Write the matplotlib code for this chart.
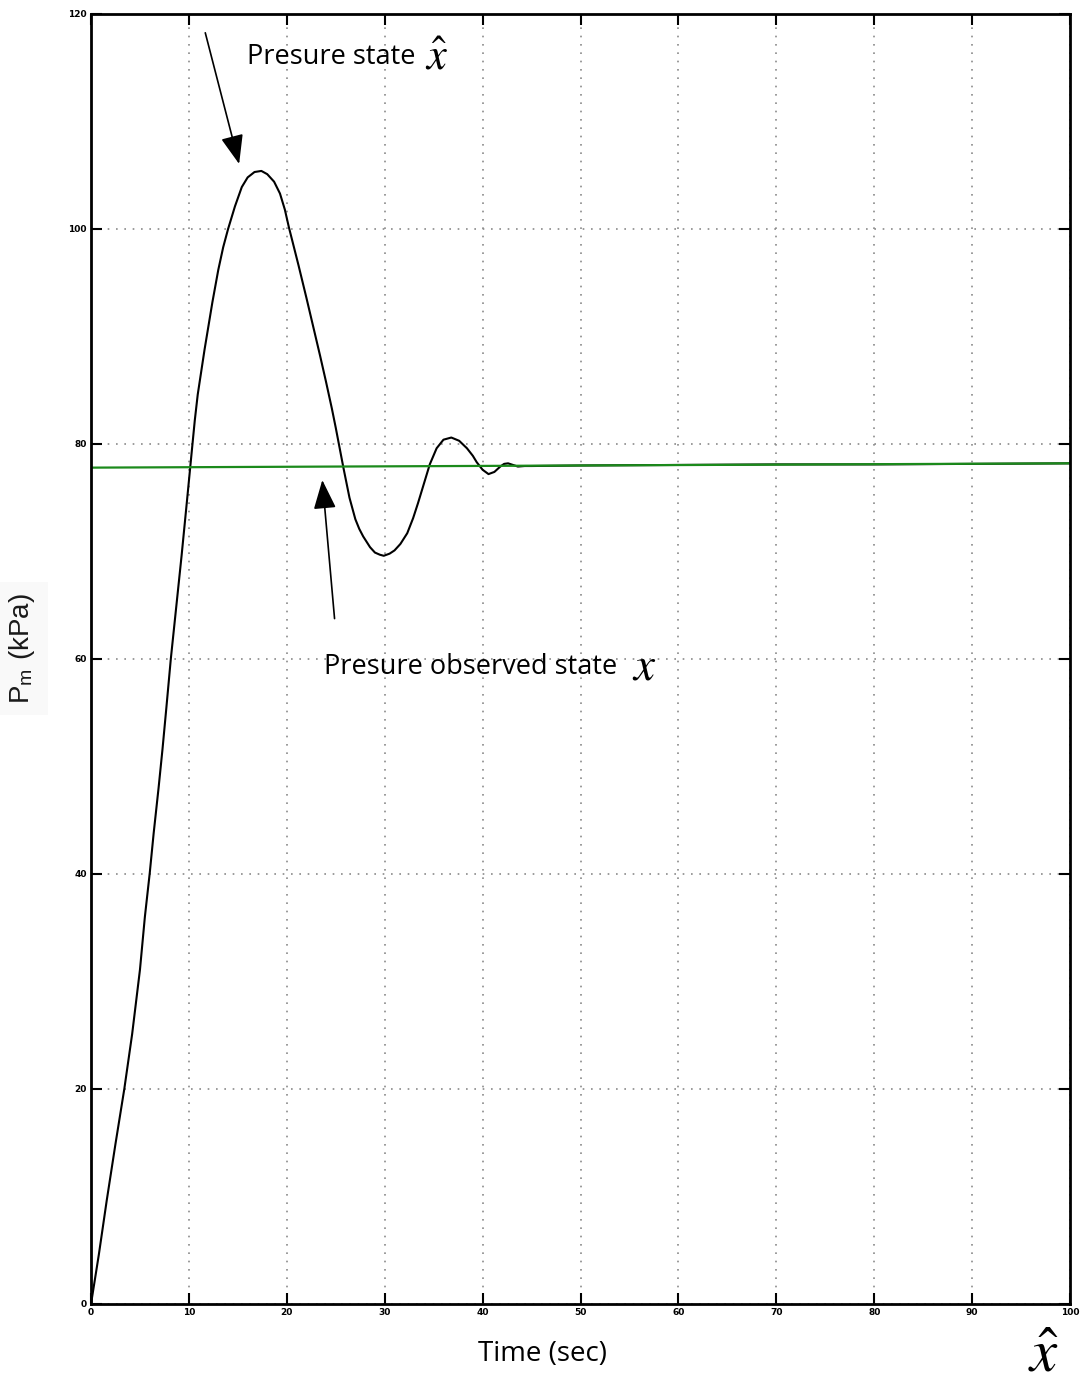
import numpy as np
import matplotlib
matplotlib.use('Agg')
import matplotlib.pyplot as plt

plt.rcParams['mathtext.fontset'] = 'stix'

# pressure state x-hat
t_hat = [0, 0.8, 1.6, 2.5, 3.4, 4.2, 5.0, 5.5, 6.0, 6.4, 6.9, 7.3, 7.7, 8.15, 8.7,
         9.25, 9.8, 10.3, 10.6, 10.9, 11.3, 11.6, 12.0, 12.4, 13.0, 13.5, 14.0,
         14.7, 15.4, 16.0, 16.7, 17.4, 18.0, 18.7, 19.3, 19.8, 20.2, 20.7, 21.2,
         21.6, 22.0, 22.7, 23.4, 24.0, 24.6, 25.0, 25.4, 25.8, 26.4, 27.0, 27.4,
         27.8, 28.5, 29.0, 29.5, 29.9, 30.5, 31.0, 31.6, 32.3, 32.9, 33.4, 33.9,
         34.6, 35.3, 36.0, 36.8, 37.6, 38.4, 39.0, 39.4, 40.0, 40.6, 41.2, 41.8,
         42.2, 42.6, 43.1, 43.6, 44.3, 45, 50, 60, 70, 80, 90, 100]
p_hat = [0, 4.6, 9.6, 14.9, 20.0, 25.1, 31.1, 36.0, 40.1, 43.8, 48.0, 51.6, 55.5, 60.0, 64.8,
         69.6, 74.7, 79.4, 82.2, 84.6, 87.0, 88.8, 91.0, 93.2, 96.2, 98.3, 100.0,
         102.1, 103.9, 104.8, 105.3, 105.4, 105.1, 104.4, 103.3, 101.8, 100.2, 98.4, 96.6,
         95.1, 93.6, 90.9, 88.2, 85.8, 83.3, 81.5, 79.6, 77.7, 75.0, 73.0, 72.1,
         71.4, 70.4, 69.9, 69.7, 69.6, 69.8, 70.1, 70.7, 71.7, 73.1, 74.5, 76.0,
         78.1, 79.6, 80.4, 80.6, 80.3, 79.6, 78.9, 78.3, 77.6, 77.2, 77.4, 77.9,
         78.15, 78.2, 78.05, 77.9, 77.95, 77.95, 78.0, 78.05, 78.1, 78.1, 78.15, 78.2]

# pressure observed state x
t_obs = [0, 100]
p_obs = [77.8, 78.2]

xticks = list(range(0, 101, 10))
yticks = list(range(0, 121, 20))

fig = plt.figure(figsize=(10.9, 13.85), dpi=100)
ax = fig.add_axes([0.0835, 0.0585, 0.8982, 0.9314])

ax.plot(t_hat, p_hat, color='black', lw=1.5, solid_joinstyle='round')
ax.plot(t_obs, p_obs, color='#1b8a1b', lw=1.6)

ax.set_xlim(0, 100)
ax.set_ylim(0, 120)
ax.set_xticks(xticks)
ax.set_yticks(yticks)
ax.grid(True, linestyle=(0, (1, 4)), color='#8a8a8a', lw=1.2)
ax.tick_params(direction='in', length=8, width=1.5, top=True, right=True,
               labelsize=6.5, pad=3)
for lab in ax.get_xticklabels() + ax.get_yticklabels():
    lab.set_fontweight('bold')
for s in ax.spines.values():
    s.set_linewidth(2)

ax.set_xlabel('Time (sec)', family='Open Sans', fontsize=20)
ax.xaxis.set_label_coords(0.461, -0.028)
ax.set_ylabel(r'P$_\mathregular{m}$ (kPa)', family='Liberation Sans', fontsize=20,
              color='#1a1a1a',
              bbox=dict(facecolor='#f9f9f9', edgecolor='none', pad=8))
ax.yaxis.set_label_coords(-0.055, 0.508)

ax.annotate('', xy=(15.2, 105.8), xytext=(11.6, 118.5),
            arrowprops=dict(arrowstyle='-|>,head_length=1.8,head_width=0.7',
                            color='black', lw=1.2))
ax.annotate('', xy=(23.6, 76.9), xytext=(24.9, 63.5),
            arrowprops=dict(arrowstyle='-|>,head_length=1.8,head_width=0.7',
                            color='black', lw=1.2))

ax.text(15.9, 116.0, 'Presure state', family='Open Sans', fontsize=19.5, va='center')
ax.text(34.1, 116.0, r'$\hat{x}$', fontsize=32, va='center')
ax.text(23.8, 59.3, 'Presure observed state', family='Open Sans', fontsize=19.5, va='center')
ax.text(55.3, 59.3, r'$x$', fontsize=34, va='center')

fig.text(0.957, 0.022, r'$\hat{x}$', fontsize=44, ha='center', va='center')

fig.savefig('out.png', dpi=100)
